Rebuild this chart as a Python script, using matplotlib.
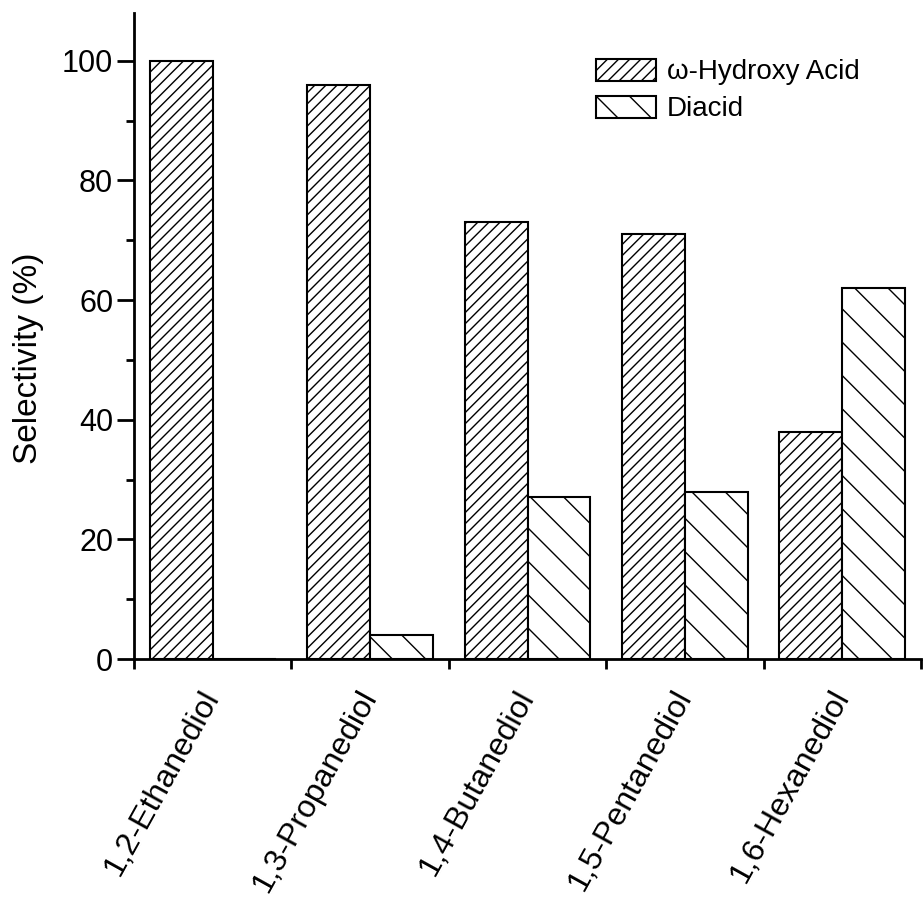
import matplotlib.pyplot as plt
import numpy as np
from matplotlib.ticker import MultipleLocator

plt.rcParams['font.family'] = ['Liberation Sans', 'DejaVu Sans']
plt.rcParams['hatch.linewidth'] = 1.0

# Data
diols = ["1,2-Ethanediol", "1,3-Propanediol", "1,4-Butanediol",
         "1,5-Pentanediol", "1,6-Hexanediol"]
hydroxy_acid = [100, 96, 73, 71, 38]
diacid = [0, 4, 27, 28, 62]


def plot_selectivity():
    fig = plt.figure(figsize=(9.24, 9.02), dpi=100)
    ax = fig.add_axes([0.145, 0.2694, 0.8518, 0.7162])

    x = np.arange(1, len(diols) + 1)
    w = 0.4
    ax.bar(x - w / 2, hydroxy_acid, w, color='white', edgecolor='black',
           hatch='///', linewidth=1.5, label=r'ω-Hydroxy Acid')
    ax.bar(x + w / 2, diacid, w, color='white', edgecolor='black',
           hatch='\\', linewidth=1.5, label='Diacid')

    ax.set_xlim(0.5, len(diols) + 0.5)
    ax.set_ylim(0, 108)

    # spines
    for s in ['top', 'right']:
        ax.spines[s].set_visible(False)
    for s in ['left', 'bottom']:
        ax.spines[s].set_linewidth(2)

    # y ticks
    ax.yaxis.set_major_locator(MultipleLocator(20))
    ax.yaxis.set_minor_locator(MultipleLocator(10))
    ax.tick_params(axis='y', which='major', length=12, width=2,
                   labelsize=22, pad=3)
    ax.tick_params(axis='y', which='minor', length=6, width=2)

    # x ticks at group boundaries, labels at group centers
    ax.set_xticks(np.arange(0.5, len(diols) + 1.0, 1.0))
    ax.set_xticklabels([])
    ax.tick_params(axis='x', which='major', length=7, width=2)
    ax.set_xticks(x, minor=True)
    ax.set_xticklabels(diols, minor=True, rotation=61, ha='right',
                       va='center', rotation_mode='anchor', fontsize=23)
    ax.tick_params(axis='x', which='minor', length=0, pad=24)

    ax.set_ylabel("Selectivity (%)", fontsize=24)
    ax.yaxis.set_label_coords(-0.114, 0.466)

    ax.legend(loc='upper left', bbox_to_anchor=(0.587, 0.929),
              frameon=False, fontsize=20, handlelength=2.15,
              handleheight=0.83, handletextpad=0.4, labelspacing=0.38,
              borderpad=0, borderaxespad=0)

    fig.savefig("out.png", dpi=100)


if __name__ == "__main__":
    plot_selectivity()
